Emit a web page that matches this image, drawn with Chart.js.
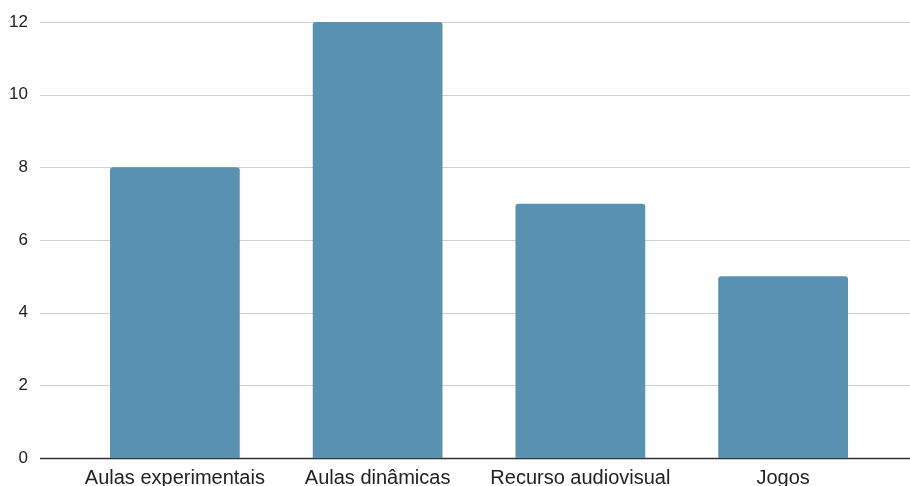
<!DOCTYPE html>
<html>
<head>
<meta charset="utf-8">
<script src="https://cdn.jsdelivr.net/npm/chart.js@4"></script>
<style>
  html, body { margin: 0; padding: 0; background: #fff; }
  #wrap { width: 910px; height: 486px; }
</style>
</head>
<body>
<div id="wrap"><canvas id="chart" width="910" height="486"></canvas></div>
<script>
const categories = ["Aulas experimentais", "Aulas dinâmicas", "Recurso audiovisual", "Jogos"];
const values = [8, 12, 7, 5];
const yTicks = [0, 2, 4, 6, 8, 10, 12];

const barColor = "#5992b1";
const fontFamily = "'Liberation Sans', Arial, sans-serif";

// horizontal grid drawn wider than the chart area, zero line darker
const gridLines = {
  id: "gridLines",
  beforeDatasetsDraw(chart) {
    const ctx = chart.ctx;
    const y = chart.scales.y;
    ctx.save();
    yTicks.forEach(v => {
      const py = Math.round(y.getPixelForValue(v)) + 0.5;
      ctx.beginPath();
      ctx.moveTo(40, py);
      ctx.lineTo(chart.width, py);
      if (v === 0) {
        ctx.strokeStyle = "#333333";
        ctx.lineWidth = 1.5;
      } else {
        ctx.strokeStyle = "#d0d0d0";
        ctx.lineWidth = 1;
      }
      ctx.stroke();
    });
    ctx.restore();
  }
};

new Chart(document.getElementById("chart"), {
  type: "bar",
  data: {
    labels: categories,
    datasets: [{
      data: values,
      backgroundColor: barColor,
      borderRadius: 3,
      borderSkipped: "bottom",
      barPercentage: 0.64,
      categoryPercentage: 1
    }]
  },
  options: {
    responsive: false,
    animation: false,
    layout: { padding: { top: 22, right: 25.5, left: 0, bottom: 0 } },
    plugins: { legend: { display: false }, tooltip: { enabled: false } },
    scales: {
      x: {
        grid: { display: false, drawTicks: false },
        border: { display: false },
        afterFit(scale) {
          scale.height = 28;
          scale.paddingLeft = 0;
          scale.paddingRight = 0;
        },
        ticks: {
          color: "#222",
          font: { family: fontFamily, size: 20 },
          padding: 8,
          maxRotation: 0
        }
      },
      y: {
        min: 0,
        max: 12,
        grid: { display: false, drawTicks: false },
        border: { display: false },
        afterBuildTicks(scale) {
          scale.ticks = yTicks.map(v => ({ value: v }));
        },
        afterFit(scale) {
          scale.width = 73.5;
          scale.paddingTop = 0;
          scale.paddingBottom = 0;
        },
        ticks: {
          color: "#222",
          font: { family: fontFamily, size: 17 },
          padding: 45.5
        }
      }
    }
  },
  plugins: [gridLines]
});
</script>
</body>
</html>
